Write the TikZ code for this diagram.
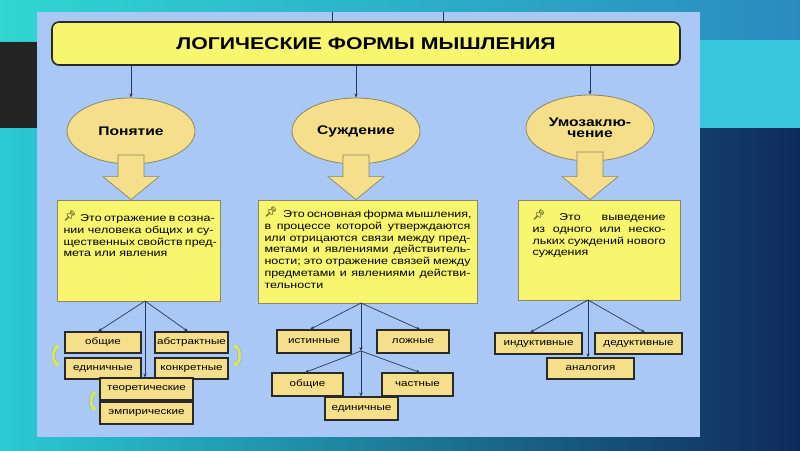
\documentclass[tikz,border=0pt]{standalone}
\usepackage{fontspec}
\setmainfont{Liberation Sans}[FakeStretch=1.25]
\newfontfamily\pinfont{Noto Emoji}
\usetikzlibrary{arrows.meta,shapes.geometric,calc}
\definecolor{bgteal}{HTML}{2BCBD3}
\definecolor{bgnavy}{HTML}{0E2A5C}
\definecolor{bgtop}{HTML}{2FD6D2}
\definecolor{bgtopr}{HTML}{2A8BBF}
\definecolor{bgband}{HTML}{37C8DE}
\definecolor{bgdark}{HTML}{242424}
\definecolor{lfpanel}{HTML}{A9C8F5}
\definecolor{lfyellow}{HTML}{F8F66E}
\definecolor{lfsand}{HTML}{F5DF8B}
\definecolor{lfolive}{HTML}{8C8666}
\definecolor{lfdark}{HTML}{2A2A2A}
\definecolor{lfline}{HTML}{2A3754}
\definecolor{lfgreen}{HTML}{D2E56C}
\tikzset{
  headbox/.style={draw=lfdark,line width=1.6pt,fill=lfyellow,rounded corners=7pt,
                  minimum width=628pt,minimum height=43pt,
                  font=\fontsize{17}{18}\selectfont\bfseries},
  formell/.style={ellipse,draw=lfolive,line width=0.8pt,fill=lfsand,align=center,
                  minimum width=128pt,minimum height=66pt,inner sep=0pt,
                  font=\fontsize{12.5}{11.5}\selectfont\bfseries},
  defbox/.style={draw=lfolive,line width=0.8pt,fill=lfyellow,inner sep=0pt,
                 font=\fontsize{10}{11.8}\selectfont},
  kindbox/.style={draw=lfdark,line width=1.1pt,fill=lfsand,minimum height=21pt,
                  inner sep=0pt,font=\fontsize{9.3}{10}\selectfont},
  conn/.style={-{Stealth[length=4pt,width=3.2pt]},line width=0.7pt,lfline},
  fat/.style={draw=lfolive,line width=0.7pt,fill=lfsand},
  swap/.style={{Triangle[length=4pt,width=7pt]}-{Triangle[length=4pt,width=7pt]},
               line width=3pt,lfgreen,preaction={draw=gray!70,line width=4pt}},
}
\newcommand{\jline}[1]{\makebox[\linewidth][s]{#1}\\}
\newcommand{\pin}{{\pinfont\fontsize{10}{10}\selectfont\raisebox{2pt}{📌}}}

\begin{document}
\begin{tikzpicture}[x=1pt,y=-1pt]
  \useasboundingbox (0,0) rectangle (800,450);
  % slide background
  \shade[left color=bgteal,right color=bgnavy] (0,0) rectangle (800,450);
  \shade[left color=bgtop,right color=bgtopr] (0,0) rectangle (800,40);
  \fill[bgband] (700,40) rectangle (800,128);
  \fill[bgdark] (0,42) rectangle (37,128);
  \fill[lfpanel] (37,12) rectangle (700,437);

  \node[headbox] (title) at (366,43.5) {ЛОГИЧЕСКИЕ ФОРМЫ МЫШЛЕНИЯ};
  \coordinate (stubA) at (332,12);
  \coordinate (stubB) at (443,12);
  \draw[lfline,line width=0.8pt] (stubA) -- (stubA |- title.north);
  \draw[lfline,line width=0.8pt] (stubB) -- (stubB |- title.north);

  \node[formell] (pon) at (131,131) {Понятие};
  \node[formell] (sud) at (356,131) {Суждение};
  \node[formell] (umo) at (590,128) {Умозаклю-\\чение};
  \foreach \e in {pon,sud,umo}
    \draw[conn] (\e.north |- title.south) -- (\e.north);

  \node[defbox,minimum width=163pt] (dpon) at (138.5,250.5)
    {\parbox[c][101pt][t]{150pt}{\vspace*{11pt}%
      \jline{\pin\hspace{4pt}Это отражение в созна-}
      \jline{нии человека общих и су-}
      \jline{щественных свойств пред-}
      мета или явления}};
  \node[defbox,minimum width=219pt] (dsud) at (367.5,251.5)
    {\parbox[c][103pt][t]{206pt}{\vspace*{7pt}%
      \jline{\pin\hspace{6pt}Это основная форма мышления,}
      \jline{в процессе которой утверждаются}
      \jline{или отрицаются связи между пред-}
      \jline{метами и явлениями действитель-}
      \jline{ности; это отражение связей между}
      \jline{предметами и явлениями действи-}
      тельности}};
  \node[defbox,minimum width=162pt] (dumo) at (599,250)
    {\parbox[c][100pt][t]{133pt}{\vspace*{10pt}%
      \jline{\pin\hspace{14pt}Это выведение}
      \jline{из одного или неско-}
      \jline{льких суждений нового}
      суждения}};

  % block arrows from the forms to their definitions
  \foreach \e/\d in {pon/dpon,sud/dsud,umo/dumo}{
    \coordinate (tip) at (\e.center |- \d.north);
    \draw[fat] ($(\e.center)+(-13,24)$) -- ($(\e.center)+(13,24)$)
      -- ($(tip)+(13,-23)$) -- ($(tip)+(28,-23)$) -- (tip)
      -- ($(tip)+(-28,-23)$) -- ($(tip)+(-13,-23)$) -- cycle;
  }

  % kinds of concepts
  \node[kindbox,minimum width=76pt] (gen1) at (103,342.5) {общие};
  \node[kindbox,minimum width=76pt] (edin1) at (103,368.5) {единичные};
  \node[kindbox,minimum width=73pt] (abstr) at (191.5,342.5) {абстрактные};
  \node[kindbox,minimum width=73pt] (konkr) at (191.5,368.5) {конкретные};
  \node[kindbox,minimum width=93pt,minimum height=22pt] (teor) at (146.5,389) {теоретические};
  \node[kindbox,minimum width=93pt,minimum height=22pt] (emp) at (146.5,413) {эмпирические};
  \coordinate (f1) at (145,301);
  \draw[conn] (f1) -- ($(gen1.north)+(-5,0)$);
  \draw[conn] (f1) -- ($(abstr.north)+(-3.5,0)$);
  \draw[conn] (f1) -- (f1 |- teor.north);
  \draw[swap] ($(gen1.west)+(-5,3)$) to[bend right=60] ($(edin1.west)+(-5,-3)$);
  \draw[swap] ($(abstr.east)+(5,3)$) to[bend left=60] ($(konkr.east)+(5,-3)$);
  \draw[swap] ($(teor.west)+(-3,3)$) to[bend right=60] ($(emp.west)+(-3,-3)$);

  % kinds of judgements
  \node[kindbox,minimum width=74pt,minimum height=23pt] (ist) at (314,341.5) {истинные};
  \node[kindbox,minimum width=72pt,minimum height=23pt] (lozh) at (413,341.5) {ложные};
  \node[kindbox,minimum width=71pt,minimum height=23pt] (gen2) at (307.5,384.5) {общие};
  \node[kindbox,minimum width=71pt,minimum height=23pt] (chast) at (417.5,384.5) {частные};
  \node[kindbox,minimum width=73pt,minimum height=23pt] (edin2) at (361.5,408.5) {единичные};
  \coordinate (f2) at (361,303);
  \coordinate (br2) at (361,351);
  \draw[conn] (f2) -- ($(ist.north)+(-4,0)$);
  \draw[conn] (f2) -- ($(lozh.north)+(7,0)$);
  \draw[conn] (f2) -- (br2);
  \draw[conn] (br2) -- ($(gen2.north)+(-2.5,0)$);
  \draw[conn] (br2) -- ($(chast.north)+(2.5,0)$);
  \draw[conn] (br2) -- (br2 |- edin2.north);

  % kinds of inference
  \node[kindbox,minimum width=87pt] (ind) at (538.5,343.5) {индуктивные};
  \node[kindbox,minimum width=87pt] (ded) at (638.5,343.5) {дедуктивные};
  \node[kindbox,minimum width=87pt] (anal) at (590.5,368.5) {аналогия};
  \coordinate (f3) at (588,300);
  \draw[conn] (f3) -- ($(ind.north)+(-8.5,0)$);
  \draw[conn] (f3) -- ($(ded.north)+(6.5,0)$);
  \draw[conn] (f3) -- (f3 |- anal.north);
\end{tikzpicture}
\end{document}
